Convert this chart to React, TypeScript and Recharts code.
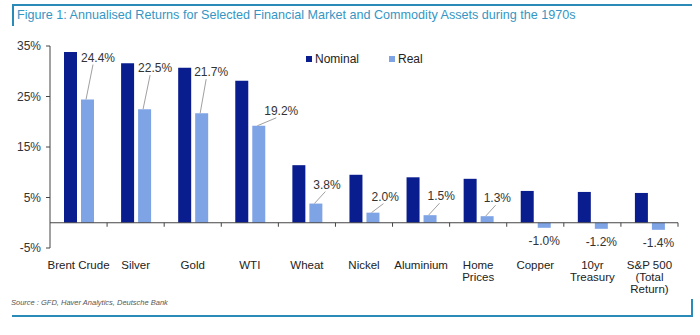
import { Bar, BarChart, LabelList, ReferenceLine, XAxis, YAxis } from 'recharts';

const CATEGORIES = [
  'Brent Crude',
  'Silver',
  'Gold',
  'WTI',
  'Wheat',
  'Nickel',
  'Aluminium',
  'Home\nPrices',
  'Copper',
  '10yr\nTreasury',
  'S&P 500\n(Total\nReturn)',
];
const NOMINAL = [33.8, 31.6, 30.7, 28.1, 11.4, 9.5, 9.0, 8.7, 6.3, 6.1, 5.9];
const REAL = [24.4, 22.5, 21.7, 19.2, 3.8, 2.0, 1.5, 1.3, -1.0, -1.2, -1.4];
const Y_TICKS = [-5, 5, 15, 25, 35];

// where the real-return label sits relative to the top-left of its bar (null = below the bar)
const LABEL_OFFSETS: Array<[number, number] | null> = [
  [0, -38],
  [0, -37],
  [-1, -37],
  [12, -11],
  [4, -15],
  [5, -12],
  [4, -15],
  [3, -14],
  null,
  null,
  null,
];

const NAVY = '#0a1d8e';
const LIGHT = '#7fa4e6';
const FRAME = '#2b8bb8';
const FONT = 'Arial, "Liberation Sans", sans-serif';

const data = CATEGORIES.map((name, i) => ({ name, nominal: NOMINAL[i], real: REAL[i] }));

function RealLabel(props: any) {
  const vb = props.viewBox ?? props;
  const { x, y, width, height } = vb;
  const idx = props.index;
  const top = Math.min(y, y + height);
  const bottom = Math.max(y, y + height);
  const text = `${Number(props.value).toFixed(1)}%`;
  const off = LABEL_OFFSETS[idx];
  if (!off) {
    return (
      <text x={x + width / 2} y={bottom + 17} textAnchor="middle" fontSize={12} fill="#333" fontFamily={FONT}>
        {text}
      </text>
    );
  }
  const lx = x + off[0];
  const ly = top + off[1];
  return (
    <g>
      <line x1={x + 5} y1={top} x2={lx + 12} y2={ly + 3} stroke="#a0a0a0" strokeWidth={1} />
      <text x={lx} y={ly} fontSize={12} fill="#333" fontFamily={FONT}>
        {text}
      </text>
    </g>
  );
}

function CategoryTick(props: any) {
  const { x, y, payload } = props;
  const lines = String(payload.value).split('\n');
  return (
    <text x={x} y={y} textAnchor="middle" fontSize={11.5} fill="#222" fontFamily={FONT}>
      {lines.map((l, i) => (
        <tspan key={i} x={x} dy={i === 0 ? 13 : 12}>
          {l}
        </tspan>
      ))}
    </text>
  );
}

// zero line with small tick marks between the categories
function ZeroAxis(props: any) {
  const { x1, x2, y1 } = props;
  const step = (x2 - x1) / CATEGORIES.length;
  return (
    <g>
      <line x1={x1} x2={x2} y1={y1} y2={y1} stroke="#444" strokeWidth={1} />
      {CATEGORIES.map((_, i) => (
        <line key={i} x1={x1 + step * (i + 1)} x2={x1 + step * (i + 1)} y1={y1} y2={y1 + 4} stroke="#444" />
      ))}
    </g>
  );
}

function LegendBox() {
  const items = [
    { label: 'Nominal', color: NAVY },
    { label: 'Real', color: LIGHT },
  ];
  return (
    <div
      style={{
        position: 'absolute',
        left: 306,
        top: 52,
        display: 'flex',
        gap: 30,
        fontFamily: FONT,
        fontSize: 12,
        color: '#222',
      }}
    >
      {items.map((it) => (
        <div key={it.label} style={{ display: 'flex', alignItems: 'center' }}>
          <span style={{ width: 6, height: 6, background: it.color, marginRight: 3, display: 'inline-block' }} />
          {it.label}
        </div>
      ))}
    </div>
  );
}

export default function App() {
  return (
    <div style={{ position: 'absolute', left: 0, top: 0, width: 700, height: 335, background: '#fff' }}>
      <div style={{ position: 'absolute', left: 13, top: 4, width: 679, height: 0, borderTop: `2px solid ${FRAME}` }} />
      <div style={{ position: 'absolute', left: 12, top: 4, width: 0, height: 22, borderLeft: `2px solid ${FRAME}` }} />
      <div style={{ position: 'absolute', left: 12, top: 315, width: 681, height: 0, borderTop: `2px solid ${FRAME}` }} />
      <div style={{ position: 'absolute', left: 691, top: 299, width: 0, height: 17, borderLeft: `2px solid ${FRAME}` }} />
      <div
        style={{
          position: 'absolute',
          left: 17,
          top: 8,
          fontFamily: '"Liberation Sans Narrow", "Arial Narrow", sans-serif',
          fontSize: 12.6,
          color: '#3596c4',
          whiteSpace: 'nowrap',
        }}
      >
        Figure 1: Annualised Returns for Selected Financial Market and Commodity Assets during the 1970s
      </div>
      <BarChart
        width={700}
        height={335}
        data={data}
        margin={{ top: 46, right: 22, bottom: 67, left: 10 }}
        barSize={13}
        barGap={4}
      >
        <XAxis dataKey="name" axisLine={false} tickLine={false} tick={<CategoryTick />} interval={0} height={20} />
        <YAxis
          domain={[-5, 35]}
          ticks={Y_TICKS}
          width={40}
          tickFormatter={(v) => `${v}%`}
          tick={{ fontSize: 12, fill: '#333', fontFamily: FONT }}
          axisLine={{ stroke: '#444' }}
          tickLine={{ stroke: '#444' }}
          tickSize={4}
          tickMargin={5}
          interval={0}
        />
        <Bar dataKey="nominal" name="Nominal" fill={NAVY} isAnimationActive={false} />
        <Bar dataKey="real" name="Real" fill={LIGHT} isAnimationActive={false}>
          <LabelList dataKey="real" content={<RealLabel />} />
        </Bar>
        <ReferenceLine y={0} shape={<ZeroAxis />} />
      </BarChart>
      <LegendBox />
      <div
        style={{
          position: 'absolute',
          left: 11,
          top: 298,
          fontFamily: FONT,
          fontSize: 7.5,
          fontStyle: 'italic',
          color: '#555',
        }}
      >
        Source : GFD, Haver Analytics, Deutsche Bank
      </div>
    </div>
  );
}
